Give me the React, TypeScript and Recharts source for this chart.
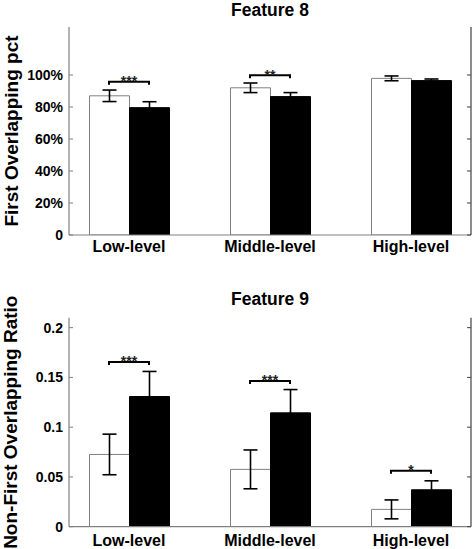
import React from "react";
import { ComposedChart, Bar, Line, XAxis, YAxis, ErrorBar } from "recharts";

const categories = ["Low-level", "Middle-level", "High-level"];

// Feature 8 (fractions, shown as percent)
const f8White = [0.87, 0.92, 0.979];
const f8WhiteErr = [0.036, 0.03, 0.015];
const f8Black = [0.796, 0.865, 0.965];
const f8BlackErr = [0.037, 0.025, 0.01];
const f8Sig: (number | null)[] = [0.958, 0.998, null];
const f8Stars = ["***", "**", ""];
const f8Ticks = [0, 0.2, 0.4, 0.6, 0.8, 1];

// Feature 9
const f9White = [0.0726, 0.0576, 0.0174];
const f9WhiteErr = [0.0204, 0.0195, 0.0095];
const f9Black = [0.1308, 0.1144, 0.0371];
const f9BlackErr = [0.0252, 0.0234, 0.009];
const f9Sig: (number | null)[] = [0.1656, 0.1465, 0.0562];
const f9Stars = ["***", "***", "*"];
const f9Ticks = [0, 0.05, 0.1, 0.15, 0.2];

const FONT = "'Liberation Sans', Arial, Helvetica, sans-serif";
const BAR = 40;

function buildRows(
  white: number[],
  whiteErr: number[],
  black: number[],
  blackErr: number[],
  sig: (number | null)[],
  stars: string[]
) {
  return categories.map((name, i) => ({
    name,
    white: white[i],
    whiteErr: whiteErr[i],
    black: black[i],
    blackErr: blackErr[i],
    sig: sig[i],
    stars: stars[i],
  }));
}

// significance bracket, spans from the white bar centre to the black bar centre
function renderBracket(props: any) {
  const { cx, cy, index, payload } = props;
  if (cy == null || payload?.sig == null) return <g key={`b-${index}`} />;
  const h = BAR / 2;
  return (
    <g key={`b-${index}`}>
      <path
        d={`M${cx - h},${cy + 3}L${cx - h},${cy}L${cx + h},${cy}L${cx + h},${cy + 3}`}
        fill="none"
        stroke="#000"
        strokeWidth={2}
      />
      <text
        x={cx}
        y={cy + 4.5}
        textAnchor="middle"
        fontSize={14}
        fontWeight="bold"
        fontFamily={FONT}
        fill="#222"
      >
        {payload.stars}
      </text>
    </g>
  );
}

type PanelProps = {
  data: any[];
  height: number;
  top: number;
  xHeight: number;
  labelGap: number;
  domain: [number, number];
  ticks: number[];
  fmt: (v: number) => string;
  title: string;
  titleTop: number;
  ylabel: string;
};

function Panel(p: PanelProps) {
  const pad = { left: -10.5, right: -10.5 };
  const tickFont = { fill: "#000", fontSize: 14, fontWeight: "bold", fontFamily: FONT };
  return (
    <div style={{ position: "relative", width: 472, height: p.height }}>
      <div
        style={{
          position: "absolute",
          left: 69,
          width: 402,
          top: p.titleTop,
          textAlign: "center",
          fontFamily: FONT,
          fontWeight: "bold",
          fontSize: 17.5,
          lineHeight: "20px",
        }}
      >
        {p.title}
      </div>
      <ComposedChart
        width={472}
        height={p.height}
        data={p.data}
        margin={{ top: p.top, right: 0, bottom: 0, left: 0 }}
        barGap={0}
        barSize={BAR}
      >
        <XAxis
          dataKey="name"
          height={p.xHeight}
          padding={pad}
          interval={0}
          axisLine={{ stroke: "#808080", strokeWidth: 1.2 }}
          tickLine={false}
          tickSize={0}
          tickMargin={p.labelGap}
          tick={{ ...tickFont, fontSize: 16 }}
        />
        <XAxis
          dataKey="name"
          xAxisId="top"
          orientation="top"
          height={0}
          padding={pad}
          interval={0}
          axisLine={{ stroke: "#404040", strokeWidth: 1.2 }}
          tickLine={{ stroke: "#404040" }}
          tickSize={-4}
          tickFormatter={() => ""}
        />
        <YAxis
          type="number"
          width={69}
          domain={p.domain}
          ticks={p.ticks}
          interval={0}
          allowDataOverflow
          axisLine={{ stroke: "#808080", strokeWidth: 1.2 }}
          tickLine={{ stroke: "#808080" }}
          tickSize={-4}
          tickMargin={10}
          tickFormatter={p.fmt}
          tick={tickFont}
          label={(lp: any) => {
            const vb = lp.viewBox || {};
            const cy = (vb.y ?? p.top) + (vb.height ?? 0) / 2;
            return (
              <text
                x={17.5}
                y={cy}
                transform={`rotate(-90 17.5 ${cy})`}
                textAnchor="middle"
                fontSize={19}
                fontWeight="bold"
                fontFamily={FONT}
                fill="#000"
              >
                {p.ylabel}
              </text>
            );
          }}
        />
        <YAxis
          yAxisId="right"
          orientation="right"
          type="number"
          width={1}
          domain={p.domain}
          ticks={p.ticks}
          interval={0}
          allowDataOverflow
          axisLine={{ stroke: "#404040", strokeWidth: 1.2 }}
          tickLine={{ stroke: "#404040" }}
          tickSize={-4}
          tickFormatter={() => ""}
        />
        <Bar dataKey="white" fill="#fff" stroke="#808080" strokeWidth={1} isAnimationActive={false}>
          <ErrorBar dataKey="whiteErr" width={7} stroke="#000" strokeWidth={1.6} />
        </Bar>
        <Bar dataKey="black" fill="#000" stroke="#000" strokeWidth={1} isAnimationActive={false}>
          <ErrorBar dataKey="blackErr" width={7} stroke="#000" strokeWidth={1.6} />
        </Bar>
        <Line
          dataKey="sig"
          stroke="none"
          dot={renderBracket}
          activeDot={false}
          legendType="none"
          isAnimationActive={false}
        />
      </ComposedChart>
    </div>
  );
}

export default function App() {
  const f8 = buildRows(f8White, f8WhiteErr, f8Black, f8BlackErr, f8Sig, f8Stars);
  const f9 = buildRows(f9White, f9WhiteErr, f9Black, f9BlackErr, f9Sig, f9Stars);
  return (
    <div style={{ position: "absolute", left: 0, top: 0, width: 472, height: 549, background: "#fff", overflow: "hidden" }}>
      <Panel
        data={f8}
        height={270}
        top={27}
        xHeight={35}
        labelGap={6}
        domain={[0, 1.3]}
        ticks={f8Ticks}
        fmt={(v) => (v === 0 ? "0" : `${Math.round(v * 100)}%`)}
        title="Feature 8"
        titleTop={0}
        ylabel="First Overlapping pct"
      />
      <Panel
        data={f9}
        height={279}
        top={47.7}
        xHeight={22.3}
        labelGap={7.5}
        domain={[0, 0.21]}
        ticks={f9Ticks}
        fmt={(v) => String(v)}
        title="Feature 9"
        titleTop={19.2}
        ylabel="Non-First Overlapping Ratio"
      />
    </div>
  );
}
